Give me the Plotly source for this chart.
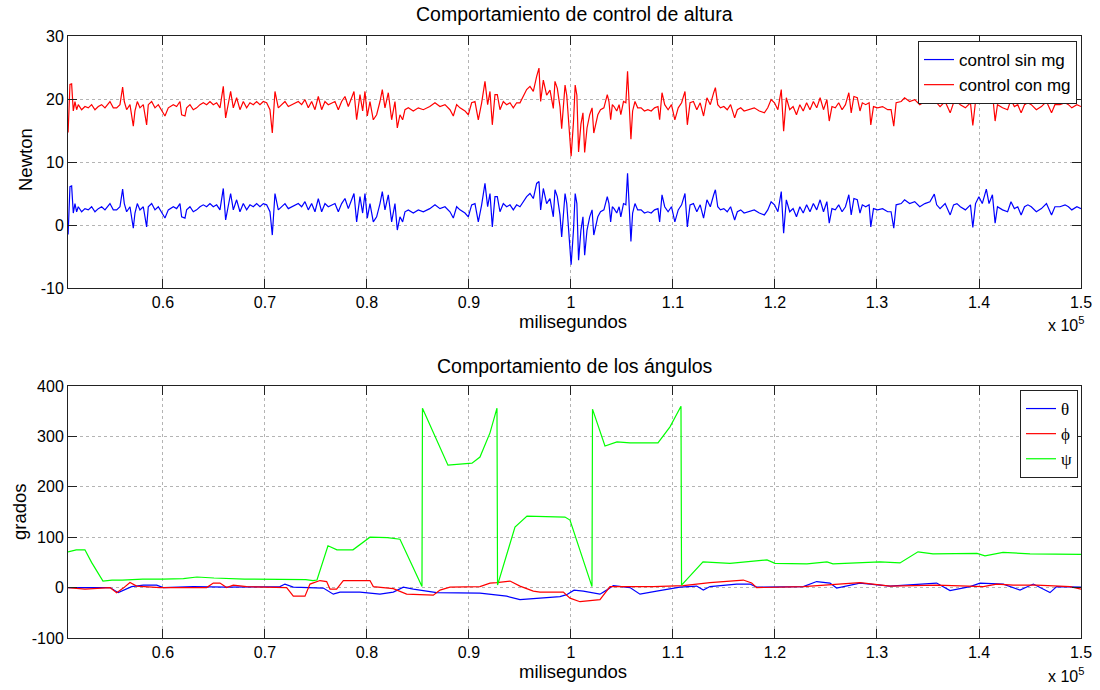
import plotly.graph_objects as go

# ---------------- data: top panel (Newton) ----------------
t_ctrl = [50700, 50882, 51046, 51209, 51373, 51536, 51699, 52026, 52353, 52680, 53007, 53333, 53660, 53987, 54314,
          54804, 55131, 55458, 55784, 56046, 56209, 56438, 56765, 57092, 57255, 57484, 57745, 58072, 58399, 58562,
          58889, 59216, 59543, 59869, 60196, 60523, 61013, 61340, 61667, 61830, 62157, 62320, 62647, 62974, 63301,
          63628, 63954, 64281, 64608, 64935, 65262, 65588, 65915, 66144, 66405, 66634, 66895, 67222, 67549, 67876,
          68203, 68529, 68856, 69183, 69510, 69837, 70163, 70490, 70719, 70980, 71307, 71634, 71961, 72288, 72614,
          72941, 73268, 73595, 73922, 74248, 74575, 74902, 75229, 75556, 75883, 76209, 76536, 76863, 77190, 77516,
          77843, 78170, 78497, 78726, 78987, 79314, 79575, 79804, 80033, 80294, 80621, 80948, 81275, 81504, 81765,
          82092, 82418, 82745, 82974, 83235, 83497, 83726, 84052, 84542, 85033, 85523, 86157, 86667, 87157, 87647,
          88137, 88464, 88791, 89118, 89608, 89935, 90262, 90588, 90915, 91242, 91569, 91830, 92059, 92288, 92549,
          92778, 93039, 93366, 93693, 94020, 94347, 94673, 95000, 95327, 95654, 95980, 96307, 96634, 96863, 97026,
          97288, 97614, 97941, 98268, 98431, 98660, 98922, 99088, 99253, 99419, 99584, 99849, 100015, 100247, 100412,
          100578, 100744, 100975, 101174, 101340, 101572, 101837, 102068, 102234, 102400, 102631, 102896, 103228, 103559, 103724,
          103890, 104056, 104221, 104486, 104718, 104884, 105149, 105380, 105546, 105712, 105877, 106043, 106275, 106540, 106871,
          107202, 107533, 107864, 108196, 108527, 108692, 108924, 109189, 109520, 109852, 110183, 110514, 110845, 111176, 111408,
          111673, 112004, 112336, 112667, 112998, 113329, 113660, 113992, 114157, 114389, 114654, 114985, 115316, 115648, 116045,
          116310, 116641, 116972, 117469, 117966, 118463, 118960, 119291, 119622, 119953, 120284, 120616, 120847, 121112, 121444,
          121775, 122106, 122437, 122768, 123100, 123431, 123762, 124093, 124424, 124756, 125087, 125319, 125584, 125915, 126246,
          126577, 126908, 127240, 127471, 127736, 128068, 128333, 128564, 128896, 129227, 129392, 129657, 130055, 130552, 131048,
          131380, 131645, 131876, 132373, 132704, 133201, 133698, 134195, 134692, 135188, 135619, 135851, 136182, 136679, 137176,
          137507, 137838, 138169, 138666, 139163, 139395, 139660, 139991, 140322, 140719, 140984, 141316, 141581, 141812, 142309,
          142806, 143137, 143468, 143800, 144131, 144462, 144793, 145124, 145621, 146118, 146615, 147112, 147443, 147940, 148436,
          148768, 149099, 149596, 150000]

control_sin_mg = [-1.5, 6.1, 6.2, 1.9, 3.4, 2.1, 2.9, 2.1, 2.6, 2.4, 2.9, 2.1, 2.6, 2.9, 2.4,
                  3.4, 2.4, 2.4, 2.9, 5.7, 3.4, 2.1, 2.9, -0.5, 1.9, 3.4, 2.4, 2.9, -0.3, 2.9,
                  3.4, 2.4, 2.9, 2.1, 1.1, 2.4, 2.9, 2.6, 3.4, 1.3, 1.1, 2.4, 2.9, 2.1, 2.4,
                  2.9, 3.2, 2.9, 3.4, 2.9, 3.2, 2.4, 5.8, 0.8, 2.9, 5.0, 2.4, 4.0, 2.1, 3.4,
                  2.4, 3.2, 2.9, 3.4, 2.9, 3.4, 3.2, 2.1, -1.6, 5.0, 2.4, 2.9, 3.4, 2.6, 2.9,
                  3.2, 3.4, 2.9, 3.7, 2.4, 3.4, 2.1, 4.2, 2.1, 3.4, 2.9, 3.2, 3.4, 2.1, 3.4,
                  4.2, 2.6, 4.0, 5.0, 0.5, 4.5, 1.9, 5.0, 1.1, 3.4, 0.5, 1.3, 3.4, 5.3, 2.4,
                  4.8, 0.5, 3.4, -0.8, 1.3, 0.5, 2.1, 2.4, 1.9, 2.4, 2.1, 2.6, 3.2, 2.6, 2.9,
                  2.1, 1.1, 2.9, 2.4, 1.9, 1.3, 3.2, 3.4, 0.5, 3.2, 6.6, 2.9, 5.0, -0.3, 4.5,
                  4.5, 2.1, 3.4, 2.9, 3.2, 2.4, 3.2, 2.9, 3.7, 4.5, 5.0, 4.2, 6.6, 6.9, 2.4,
                  5.8, 3.4, 4.2, 1.3, 5.6, 4.5, 1.6, -1.9, 1.3, 5.0, 3.4, -3.4, -6.3, -0.8, 5.0,
                  3.4, -5.6, -0.8, 1.3, -4.8, -0.8, 1.3, 2.4, -1.6, -0.3, 1.3, 2.1, 2.4, 4.5, 3.4,
                  0.5, 2.9, 2.6, 1.9, 2.9, 1.3, 3.4, 3.2, 8.2, 1.3, -2.6, 1.9, 3.4, 2.4, 2.4,
                  1.9, 2.1, 1.9, 2.4, 2.6, 0.5, 4.8, 2.9, 2.1, 2.9, 0.5, 2.4, 3.2, 5.0, -0.3,
                  3.2, 3.4, 2.1, 3.2, 1.1, 4.0, 2.9, 4.8, 5.6, 2.9, 2.4, 2.6, 2.1, 2.9, 0.8,
                  2.1, 2.4, 1.9, 2.1, 2.4, 1.9, 1.6, 2.4, 3.7, 3.2, 2.1, 5.3, -1.3, 4.0, 2.1,
                  2.6, 1.3, 2.9, 1.9, 3.2, 2.1, 3.4, 2.4, 4.0, 2.1, 3.7, 0.3, 2.6, 2.4, 3.2,
                  2.1, 2.9, 4.8, 1.6, 4.2, 4.0, 1.9, 3.2, 2.9, 3.2, -0.3, 2.6, 2.4, 2.6, 2.1,
                  2.1, -0.5, 3.2, 3.4, 4.0, 3.4, 3.7, 2.9, 3.4, 3.7, 4.9, 3.2, 2.6, 3.4, 1.6,
                  3.2, 3.4, 2.9, 2.4, 3.2, -0.4, 3.4, 4.5, 3.4, 5.7, 3.4, 4.8, 0.3, 2.9, 2.4,
                  2.1, 3.7, 2.6, 2.9, 1.6, 2.9, 3.2, 2.9, 2.1, 2.6, 3.4, 1.6, 2.9, 2.9, 3.2,
                  2.9, 2.4, 2.9, 2.6]

control_con_mg = [14.7, 22.3, 22.4, 18.1, 19.6, 18.3, 19.1, 18.3, 18.8, 18.6, 19.1, 18.3, 18.8, 19.1, 18.6,
                  19.6, 18.6, 18.6, 19.1, 21.9, 19.6, 18.3, 19.1, 15.7, 18.1, 19.6, 18.6, 19.1, 15.9, 19.1,
                  19.6, 18.6, 19.1, 18.3, 17.3, 18.6, 19.1, 18.8, 19.6, 17.5, 17.3, 18.6, 19.1, 18.3, 18.6,
                  19.1, 19.4, 19.1, 19.6, 19.1, 19.4, 18.6, 22.0, 17.0, 19.1, 21.2, 18.6, 20.2, 18.3, 19.6,
                  18.6, 19.4, 19.1, 19.6, 19.1, 19.6, 19.4, 18.3, 14.6, 21.2, 18.6, 19.1, 19.6, 18.8, 19.1,
                  19.4, 19.6, 19.1, 19.9, 18.6, 19.6, 18.3, 20.4, 18.3, 19.6, 19.1, 19.4, 19.6, 18.3, 19.6,
                  20.4, 18.8, 20.2, 21.2, 16.7, 20.7, 18.1, 21.2, 17.3, 19.6, 16.7, 17.5, 19.6, 21.5, 18.6,
                  21.0, 16.7, 19.6, 15.4, 17.5, 16.7, 18.3, 18.6, 18.1, 18.6, 18.3, 18.8, 19.4, 18.8, 19.1,
                  18.3, 17.3, 19.1, 18.6, 18.1, 17.5, 19.4, 19.6, 16.7, 19.4, 22.8, 19.1, 21.2, 15.9, 20.7,
                  20.7, 18.3, 19.6, 19.1, 19.4, 18.6, 19.4, 19.4, 20.5, 21.5, 22.0, 21.2, 23.6, 24.9, 19.6,
                  23.0, 20.6, 21.4, 18.5, 22.8, 21.7, 18.8, 15.3, 18.5, 22.2, 20.6, 13.8, 10.9, 16.4, 22.2,
                  20.6, 11.6, 16.0, 17.8, 11.5, 15.4, 17.5, 18.6, 14.6, 15.9, 17.5, 18.3, 18.6, 20.7, 19.6,
                  16.7, 19.1, 18.8, 18.1, 19.1, 17.5, 19.6, 19.4, 24.4, 17.5, 13.6, 18.1, 19.6, 18.6, 18.6,
                  18.1, 18.3, 18.1, 18.6, 18.8, 16.7, 21.0, 19.1, 18.3, 19.1, 16.7, 18.6, 19.4, 21.2, 15.9,
                  19.4, 19.6, 18.3, 19.4, 17.3, 20.2, 19.1, 21.0, 21.8, 19.1, 18.6, 18.8, 18.3, 19.1, 17.0,
                  18.3, 18.6, 18.1, 18.3, 18.6, 18.1, 17.8, 18.6, 19.9, 19.4, 18.3, 21.5, 14.9, 20.2, 18.3,
                  18.8, 17.5, 19.1, 18.1, 19.4, 18.3, 19.6, 18.6, 20.2, 18.3, 19.9, 16.5, 18.8, 18.6, 19.4,
                  18.3, 19.1, 21.0, 17.8, 20.4, 20.2, 18.1, 19.4, 19.1, 19.4, 15.9, 18.8, 18.6, 18.8, 18.3,
                  18.3, 15.7, 19.4, 19.6, 20.2, 19.6, 19.9, 19.1, 19.6, 19.9, 21.1, 19.4, 18.8, 19.6, 17.8,
                  19.4, 19.6, 19.1, 18.6, 19.4, 15.8, 19.6, 20.7, 19.6, 21.9, 19.6, 21.0, 16.5, 19.1, 18.6,
                  18.3, 19.9, 18.8, 19.1, 17.8, 19.1, 19.4, 19.1, 18.3, 18.8, 19.6, 17.8, 19.1, 19.1, 19.4,
                  19.1, 18.6, 19.1, 18.8]

# ---------------- data: bottom panel (grados) ----------------
t_theta = [50700, 54804, 55621, 56438, 56928, 58072, 59379, 60033, 62974, 66242, 69510, 71471, 71961, 72778,
           75719, 76699, 77353, 79314, 81275, 82582, 83562, 84542, 86830, 91078, 93693, 95000, 96307, 98922,
           99575, 100300, 101209, 102843, 103497, 104150, 105784, 106765, 108399, 110686, 112320, 112974,
           113627, 116242, 117549, 118203, 122778, 124085, 125392, 126046, 128333, 131275, 135850, 137157,
           139118, 140098, 142386, 144020, 145327, 146961, 147614, 149902, 150000]
theta = [0, 0, -10, -3, 2, 5, 5, 0, 2, 1, 2, 2, 7, 1,
         -1, -13, -9, -9, -13, -9, 1, -3, -10, -11, -17, -24, -22, -18,
         -14, -5, -7, -13, -5, 4, 0, -13, -7, 1, 3, -5,
         2, 7, 7, 1, 2, 12, 9, -1, 9, 3, 9, -6,
         2, 9, 7, -5, 7, -10, 2, 1, 1]

t_phi = [50700, 52353, 54804, 55458, 56111, 56765, 57418, 59706, 64281, 64935, 65588, 66242, 66895, 68203,
         72124, 72778, 73922, 74412, 75392, 76046, 76373, 77026, 77680, 80294, 80621, 82582, 83889, 86503,
         87157, 88137, 91078, 92059, 92712, 94020, 95000, 96307, 96961, 99248, 99902, 100882, 102843, 103824,
         108072, 111013, 113627, 116895, 117712, 118203, 122778, 128333, 131275, 135850, 140425, 141732,
         143366, 145654, 148922, 149902, 150000]
phi = [0, -3, 0, -10, -1, 10, 3, 0, 0, 9, 9, 0, 5, 2,
       0, -17, -17, 7, 14, 12, -3, -3, 14, 14, 2, -2, -13, -15,
       -5, 1, 2, 9, 10, 13, 3, -7, -9, -9, -21, -28, -24, 2,
       2, 4, 10, 15, 9, 0, 2, 10, 3, 5, 2, 7,
       5, 5, 2, -3, -3]

t_psi = [50690, 51500, 52350, 53000, 54118, 55000, 56000, 58000, 60000, 62000, 63333, 65000, 68000, 71000,
         74000, 74706, 75098, 76176, 77059, 78627, 80294, 82000, 83235, 85392, 85440, 87941, 90294, 91078,
         92059, 92745, 92800, 94510, 95686, 99412, 99902, 102059, 102110, 103333, 104510, 105784, 108529,
         109706, 110784, 110840, 112941, 115588, 119216, 120000, 123137, 125098, 125686, 130294, 132255,
         134020, 135490, 139804, 140588, 142353, 145000, 150000]
psi = [71, 75, 75, 50, 13, 15, 15, 17, 17, 18, 21, 19, 17, 17,
       16, 14, 15, 83, 75, 75, 100, 99, 96, 2, 356, 243, 247, 259,
       307, 356, 5, 120, 142, 140, 134, 2, 354, 281, 289, 287, 287,
       319, 360, 5, 51, 48, 55, 48, 47, 51, 47, 51, 49,
       71, 67, 68, 63, 70, 67, 66]

tick_vals = [60000, 70000, 80000, 90000, 100000, 110000, 120000, 130000, 140000, 150000]
tick_text = ["0.6", "0.7", "0.8", "0.9", "1", "1.1", "1.2", "1.3", "1.4", "1.5"]
y1_vals = [-10, 0, 10, 20, 30]
y1_text = ["-10", "0", "10", "20", "30"]
y2_vals = [-100, 0, 100, 200, 300, 400]
y2_text = ["-100", "0", "100", "200", "300", "400"]

# ---------------- figure ----------------
W, H = 1100, 690
FONT = "Liberation Sans, Arial, sans-serif"
SERIF = "Liberation Serif, Times New Roman, serif"
BLUE, RED, GREEN = "#0000ff", "#ff0000", "#00ff00"

fig = go.Figure()
fig.add_trace(go.Scatter(x=t_ctrl, y=control_sin_mg, mode="lines", name="control sin mg",
                         line=dict(color=BLUE, width=1.2), xaxis="x", yaxis="y", legend="legend"))
fig.add_trace(go.Scatter(x=t_ctrl, y=control_con_mg, mode="lines", name="control con mg",
                         line=dict(color=RED, width=1.2), xaxis="x", yaxis="y", legend="legend"))
fig.add_trace(go.Scatter(x=t_theta, y=theta, mode="lines", name="θ",
                         line=dict(color=BLUE, width=1.2), xaxis="x2", yaxis="y2", legend="legend2"))
fig.add_trace(go.Scatter(x=t_phi, y=phi, mode="lines", name="ϕ",
                         line=dict(color=RED, width=1.2), xaxis="x2", yaxis="y2", legend="legend2"))
fig.add_trace(go.Scatter(x=t_psi, y=psi, mode="lines", name="ψ",
                         line=dict(color=GREEN, width=1.2), xaxis="x2", yaxis="y2", legend="legend2"))

xdom = [68 / W, 1081 / W]
top_dom = [1 - 288 / H, 1 - 36 / H]
bot_dom = [1 - 638 / H, 1 - 386 / H]

axis_common = dict(showline=True, linecolor="#222222", linewidth=1, mirror="ticks",
                   ticks="inside", ticklen=9, tickcolor="#222222", tickwidth=1,
                   showgrid=True, gridcolor="#b4b4b4", griddash="dot", gridwidth=1,
                   zeroline=False, automargin=False,
                   tickfont=dict(family=FONT, size=16, color="#000000"))

fig.update_layout(
    width=W, height=H, autosize=False,
    margin=dict(l=0, r=0, t=0, b=0),
    paper_bgcolor="white", plot_bgcolor="white",
    font=dict(family=FONT, color="#000000"),
    xaxis=dict(domain=xdom, range=[50690, 150000], tickvals=tick_vals, ticktext=tick_text,
               anchor="y", **axis_common),
    yaxis=dict(domain=top_dom, range=[-10, 30], tickvals=y1_vals, ticktext=y1_text,
               anchor="x", **axis_common),
    xaxis2=dict(domain=xdom, range=[50690, 150000], tickvals=tick_vals, ticktext=tick_text,
                anchor="y2", **axis_common),
    yaxis2=dict(domain=bot_dom, range=[-100, 400], tickvals=y2_vals, ticktext=y2_text,
                anchor="x2", **axis_common),
    legend=dict(x=1077 / W, y=1 - 41 / H, xanchor="right", yanchor="top",
                bgcolor="white", bordercolor="#222222", borderwidth=1,
                font=dict(family=FONT, size=17, color="#000000"), tracegroupgap=0,
                itemwidth=30),
    legend2=dict(x=1078 / W, y=1 - 390 / H, xanchor="right", yanchor="top",
                 bgcolor="white", bordercolor="#222222", borderwidth=1,
                 font=dict(family=SERIF, size=17, color="#000000"),
                 tracegroupgap=0, itemwidth=30),
    showlegend=True,
)

ann = []
def add_text(text, x, y, size=18, angle=0, xanchor="center", yanchor="middle"):
    ann.append(dict(text=text, x=x, y=y, xref="paper", yref="paper", showarrow=False,
                    textangle=angle, xanchor=xanchor, yanchor=yanchor,
                    font=dict(family=FONT, size=size, color="#000000")))

add_text("Comportamiento de control de altura", 574.5 / W, 1 - 14 / H, size=19.5)
add_text("Comportamiento de los ángulos", 574.5 / W, 1 - 366 / H, size=19.5)
add_text("milisegundos", 573 / W, 1 - 321 / H, size=18.5)
add_text("milisegundos", 573 / W, 1 - 671 / H, size=18.5)
add_text("Newton", 25 / W, 1 - 160 / H, size=18.5, angle=-90)
add_text("grados", 19 / W, 1 - 512 / H, size=18.5, angle=-90)
add_text("x 10<sup>5</sup>", 1086 / W, 1 - 324 / H, size=16, xanchor="right")
add_text("x 10<sup>5</sup>", 1086 / W, 1 - 675 / H, size=16, xanchor="right")
fig.update_layout(annotations=ann)

fig.write_html("out.html")
